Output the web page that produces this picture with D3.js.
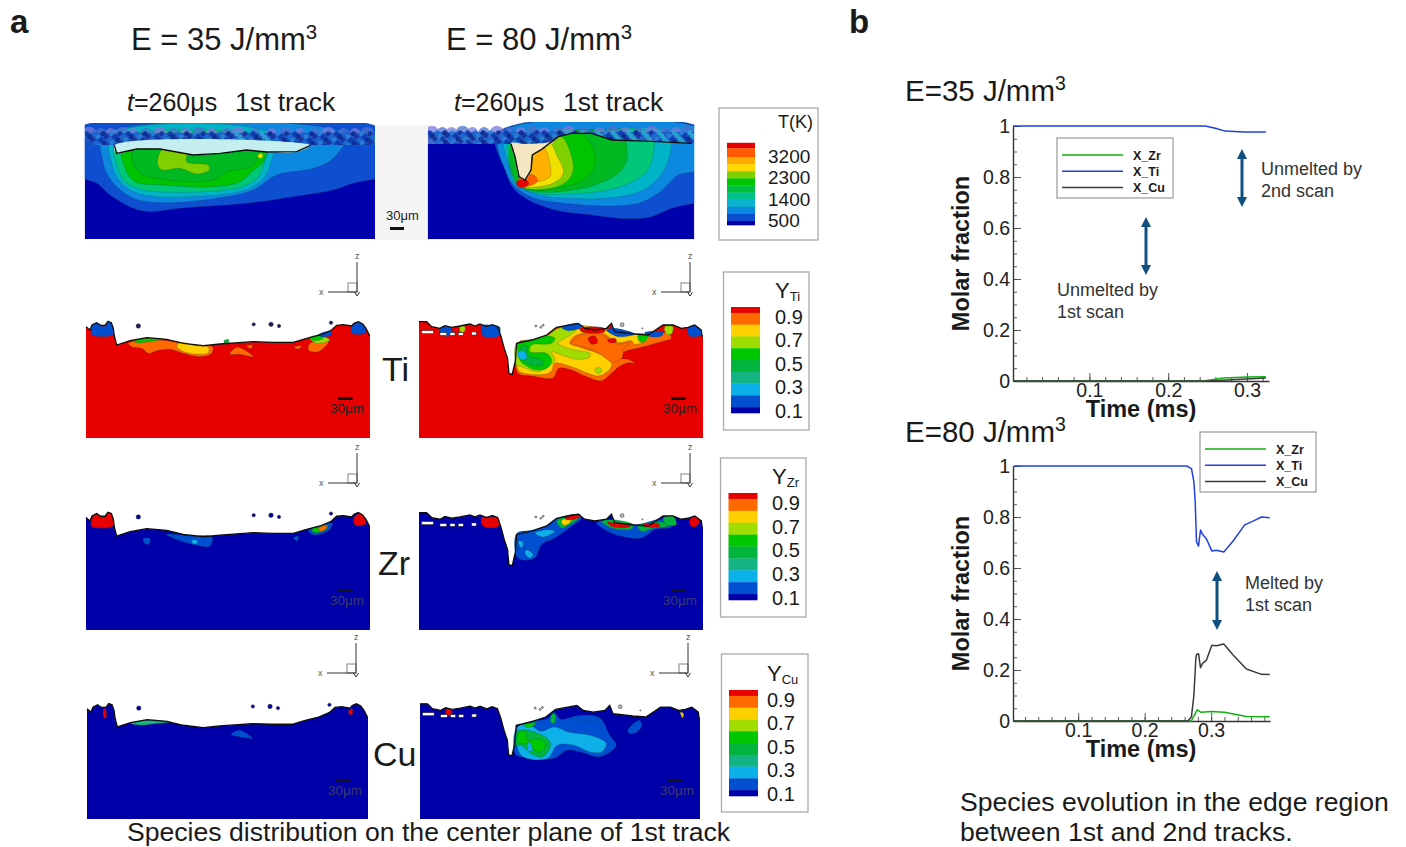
<!DOCTYPE html>
<html><head><meta charset="utf-8">
<script src="https://cdn.jsdelivr.net/npm/d3@7"></script>
<style>html,body{margin:0;background:#fff}svg{display:block}text{font-family:"Liberation Sans",Arial,sans-serif;fill:#1a1a1a}</style>
</head><body><svg id="c" width="1406" height="847"></svg>
<script>
// ---------- Line-chart data (time in ms, molar fraction) ----------
const t35Ti=[0.003,0.15,0.247,0.26,0.2725,0.296,0.324];
const v35Ti=[1,1,1,0.991,0.98,0.976,0.976];
const t35Zr=[0.003,0.245,0.27,0.30,0.324];
const v35Zr=[0,0,0.012,0.016,0.017];
const t35Cu=[0.003,0.25,0.28,0.324];
const v35Cu=[0,0,0.005,0.012];
const t80Ti=[0.003,0.263,0.2704,0.274,0.276,0.278,0.281,0.284,0.287,0.293,0.301,0.308,0.319,0.333,0.3505,0.363,0.3757,0.388];
const v80Ti=[1,1,0.99,0.939,0.86,0.703,0.686,0.749,0.732,0.714,0.667,0.67,0.663,0.706,0.769,0.784,0.80,0.797];
const t80Cu=[0.003,0.265,0.2704,0.274,0.277,0.278,0.281,0.284,0.287,0.293,0.301,0.308,0.319,0.333,0.353,0.3757,0.388];
const v80Cu=[0,0,0.017,0.10,0.246,0.261,0.264,0.209,0.226,0.239,0.297,0.295,0.302,0.259,0.204,0.183,0.182];
const t80Zr=[0.003,0.27,0.275,0.279,0.285,0.30,0.32,0.353,0.388];
const v80Zr=[0,0,0.024,0.044,0.034,0.037,0.034,0.018,0.017];
const seriesNames=["X_Zr","X_Ti","X_Cu"];
const yTicks=[0,0.2,0.4,0.6,0.8,1];
const xTicks=[0.1,0.2,0.3];
// ---------- Legend data ----------
const levelColors=["#e60000","#ff6a00","#ffd000","#a0dc00","#00c800","#00b43c","#14b482","#0ab0e8","#0050d0","#0000a8"];
const yLevelEdges=[1,0.95,0.85,0.75,0.65,0.55,0.45,0.35,0.25,0.15,0.1];
const yLabels=[0.9,0.7,0.5,0.3,0.1];
const tColors=["#e60000","#ff5a00","#ffa800","#ffd800","#80d000","#00c400","#00c040","#00c08c","#0ab4d0","#0a88e0","#0b4fd0","#0000a8"];
const tEdges=[3800,3570,3200,2900,2600,2300,2000,1700,1400,1100,800,500,330];
const tLabels=[3200,2300,1400,500];
// ---------- Temperature contour shapes (x, depth in sampled image units) ----------
const tLeftLayers=[
 [10,[[-40,40],[930,40],[930,172],[885,178],[820,190],[760,210],[640,230],[500,250],[300,265],[210,275],[160,265],[90,225],[50,190],[14,178],[-40,165]]],
 [9,[[68,45],[68,120],[80,160],[110,200],[160,235],[220,247],[300,247],[430,232],[520,210],[590,165],[700,145],[760,115],[795,45]]],
 [8,[[92,45],[95,130],[115,180],[160,215],[230,230],[330,230],[440,222],[510,205],[555,170],[572,130],[580,45]]],
 [7,[[108,60],[112,140],[135,185],[190,210],[300,217],[420,212],[490,200],[535,170],[555,120],[565,60]]],
 [5,[[130,70],[135,145],[165,185],[250,195],[400,200],[480,185],[520,150],[550,125],[555,70]]],
 [6,[[165,70],[170,150],[250,178],[400,180],[440,155],[520,135],[530,70]]],
 [4,[[248,88],[232,130],[245,150],[300,145],[350,162],[388,150],[385,135],[320,125],[320,100]]],
 [3,[[533,106],[545,100],[548,112],[536,114]]]];
const tLeftPool=[[103,76],[110,100],[170,87],[240,87],[340,105],[420,100],[500,90],[560,96],[650,95],[692,76]];
const tLeftTop=[[14,75],[885,75]];
const tRightLayers=[
 [10,[[215,40],[240,150],[265,205],[310,240],[390,270],[500,285],[600,296],[680,290],[740,265],[808,250],[860,235],[860,40]]],
 [9,[[225,40],[245,160],[270,200],[330,235],[420,250],[560,258],[640,250],[700,220],[760,165],[808,155],[860,140],[860,40]]],
 [8,[[240,45],[252,140],[270,190],[340,225],[430,235],[540,235],[630,220],[690,185],[725,135],[732,40],[500,30],[400,35]]],
 [7,[[255,50],[275,190],[340,220],[430,222],[520,215],[600,195],[665,155],[683,110],[680,40],[500,30],[400,35]]],
 [6,[[262,60],[275,190],[340,215],[430,212],[510,195],[580,160],[605,120],[590,40],[500,30],[400,35]]],
 [5,[[300,200],[420,200],[490,170],[512,120],[490,60],[450,30],[380,40]]],
 [4,[[290,198],[380,205],[430,180],[445,150],[440,110],[410,50],[370,60],[345,90]]],
 [3,[[290,195],[370,195],[410,170],[415,150],[395,105],[375,70],[345,92]]],
 [2,[[285,190],[340,185],[375,170],[378,155],[355,80],[325,100],[318,150]]],
 [1,[[275,185],[300,165],[325,165],[338,182],[310,198]]],
 [0,[[274,188],[290,178],[310,185],[310,195],[290,203],[278,198]]]];
const tRightPool=[[258,70],[270,110],[282,170],[300,180],[318,150],[322,105],[350,88],[385,66],[350,70],[300,72]];
const tRightMelt=[[258,72],[270,110],[282,170],[300,180],[318,150],[322,105],[350,88],[400,50],[440,40],[500,40],[560,60],[680,64],[800,70]];
const tRightTop=[[8,72],[258,72],[320,100],[350,88],[400,50],[440,40],[500,40],[560,60],[680,64],[808,70]];
const powderTopX=[28,62,92,128,160,198,240,282,318,358,395,440,475,525,575,618,660,705,745,790,825,862];
const powderMidX=[20,45,70,95,120,145,170,195,220,245,270,295,320,345,370,395,420,445,470,495,520,545,570,595,620,645,670,695,720,745,770,795,820,845,870];
// ---------- Species surface profiles ----------
const surfaceLeft=[[18,50],[30,60],[36,45],[50,38],[62,46],[75,46],[84,34],[94,38],[100,55],[103,78],[110,105],[150,92],[200,83],[260,88],[310,100],[370,107],[420,102],[520,95],[580,97],[640,97],[680,85],[720,75],[752,62],[770,46],[790,44],[815,48],[822,40],[835,35],[848,42],[858,55],[868,75],[870,75]];
const surfaceRight=[[12,35],[35,35],[50,50],[75,55],[90,47],[110,52],[135,48],[165,42],[180,48],[195,42],[215,50],[232,44],[248,50],[258,78],[268,115],[278,145],[282,190],[292,193],[302,150],[305,100],[350,90],[395,75],[425,52],[490,40],[510,55],[540,60],[575,55],[590,40],[600,65],[660,72],[700,75],[745,45],[775,45],[800,55],[820,52],[840,45],[860,60],[862,78],[865,78]];
const specksLeft=[[175,48,4],[573,43,4],[521,43,3],[597,48,3],[753,38,3]];
const specksRight=[[363,48,1.8],[378,52,1.8],[385,46,1.8],[622,44,3.5],[683,55,1]];
const pitsRight=[[20,62,35,9],[75,68,20,8],[105,68,15,8],[130,68,15,8],[170,66,14,9]];
// ---------- Species contour shapes ----------
const tiLeftLayers=[
 [8,[[34,62],[38,46],[52,40],[62,48],[76,48],[85,36],[94,40],[98,74],[34,74]]],
 [8,[[815,50],[825,42],[838,36],[850,46],[858,68],[815,70]]],
 [1,[[145,100],[190,90],[260,92],[310,100],[370,108],[398,110],[395,130],[360,140],[310,130],[270,118],[230,122],[205,130],[185,115],[155,110]]],
 [2,[[290,108],[305,97],[345,107],[385,112],[385,128],[345,132],[305,122]]],
 [4,[[160,95],[200,85],[250,87],[220,93],[180,98]]],
 [1,[[450,132],[470,112],[490,118],[520,140],[480,133]]],
 [1,[[500,108],[518,105],[512,116]]],[1,[[642,112],[665,107],[655,117]]],
 [1,[[685,120],[690,100],[745,95],[740,105],[715,125],[695,125]]],
 [3,[[690,85],[730,80],[750,90],[710,100]]],[4,[[690,82],[720,76],[730,85],[700,92]]],
 [5,[[432,92],[445,88],[445,100],[435,102]]],[8,[[715,74],[750,64],[755,74],[725,80]]]];
const tiRightLayers=[
 [1,[[303,175],[312,192],[350,198],[415,203],[432,175],[470,180],[510,198],[560,212],[590,190],[612,170],[640,158],[660,160],[640,148],[618,145],[625,128],[680,112],[740,95],[770,85],[760,70],[700,75],[640,72],[580,58],[520,50],[470,45],[430,55],[395,78],[350,90],[312,96]]],
 [2,[[305,165],[315,185],[395,192],[412,180],[418,160],[470,170],[520,190],[552,198],[585,178],[590,160],[560,135],[490,110],[465,100],[480,78],[560,68],[610,98],[650,92],[660,103],[700,88],[700,75],[620,70],[560,55],[480,45],[430,55],[395,78],[350,90],[312,96]]],
 [1,[[470,100],[492,78],[560,74],[606,102],[645,98],[628,115],[622,143],[600,156],[590,156],[545,125],[495,108]]],
 [3,[[305,100],[350,92],[395,80],[430,55],[480,55],[480,65],[450,85],[430,100],[470,118],[525,130],[525,140],[490,148],[440,135],[410,125],[420,150],[400,170],[370,185],[320,170],[305,165]]],
 [4,[[310,98],[350,92],[395,78],[420,85],[410,100],[350,105],[345,125],[395,130],[410,150],[400,172],[365,180],[330,165],[318,155]]],
 [5,[[318,110],[335,108],[340,135],[380,150],[385,165],[350,165],[325,150]]],
 [7,[[310,125],[330,125],[335,145],[320,150],[310,140]]],
 [0,[[520,85],[540,78],[548,98],[530,102]]],[0,[[578,90],[600,85],[605,95],[585,98]]],
 [3,[[540,178],[555,172],[560,185],[548,190]]],
 [8,[[440,52],[490,40],[500,52],[460,62]]],[0,[[495,55],[570,55],[570,65],[500,65]]],
 [8,[[575,60],[600,55],[660,72],[610,80]]],[8,[[690,68],[745,66],[740,78],[700,78]]],
 [4,[[670,75],[700,78],[690,95],[675,95]]],[3,[[750,50],[775,50],[770,72],[755,72]]],
 [8,[[75,57],[90,49],[110,54],[110,75],[75,75]]],[8,[[200,48],[232,46],[255,52],[250,78],[205,78]]],[8,[[820,55],[840,47],[860,62],[858,76],[825,78]]],
 [3,[[135,50],[150,50],[148,65],[136,65]]]];
const zrLeftLayers=[
 [0,[[34,62],[38,46],[52,40],[62,48],[76,48],[85,36],[94,40],[98,76],[34,76]]],[0,[[822,50],[842,38],[858,68],[825,72]]],
 [8,[[260,100],[330,105],[396,108],[390,135],[340,130],[290,115]]],
 [7,[[335,118],[352,118],[350,128],[338,127]]],[8,[[190,112],[210,112],[208,128],[195,128]]],
 [8,[[685,88],[720,75],[757,66],[750,85],[720,100],[695,100]]],
 [4,[[695,86],[725,75],[745,72],[735,88],[705,95]]],[1,[[715,82],[740,74],[738,84],[720,90]]],
 [8,[[640,110],[655,105],[652,120]]]];
const zrRightLayers=[
 [8,[[305,102],[350,92],[400,78],[430,55],[490,45],[500,55],[470,80],[420,115],[380,135],[360,175],[320,180],[305,170]]],
 [8,[[545,70],[590,60],[660,75],[745,60],[770,82],[720,90],[680,115],[620,110],[570,90]]],
 [7,[[310,125],[325,128],[320,145]]],[7,[[335,150],[355,165],[345,175],[330,160]]],[7,[[360,100],[400,90],[420,95],[385,112]]],
 [5,[[425,65],[445,52],[495,45],[490,58],[465,75],[440,85]]],[2,[[440,62],[470,58],[462,72],[445,76]]],[0,[[450,52],[497,45],[490,55],[455,60]]],
 [5,[[560,65],[590,60],[655,75],[650,88],[590,85]]],[0,[[578,68],[610,72],[650,75],[640,83],[590,80]]],
 [5,[[670,80],[745,68],[765,78],[720,85],[680,95]]],[0,[[685,75],[730,72],[735,80],[695,82]]],
 [0,[[200,55],[228,52],[250,55],[250,80],[205,80]]],[5,[[745,55],[775,50],[785,75],[755,75]]],[0,[[825,60],[842,50],[855,65],[842,82],[828,78]]]];
const cuLeftLayers=[
 [6,[[150,95],[200,85],[270,90],[230,95],[180,100]]],
 [8,[[455,128],[480,115],[520,140],[480,135]]],[0,[[68,50],[74,50],[76,78],[70,78]]],[0,[[812,55],[822,50],[822,68],[812,66]]]];
const cuRightLayers=[
 [8,[[305,100],[350,78],[400,70],[420,50],[430,60],[440,72],[500,60],[560,68],[590,120],[610,150],[585,175],[555,185],[500,170],[460,165],[420,190],[340,185],[305,180]]],
 [7,[[310,95],[345,88],[380,108],[420,95],[470,112],[530,120],[580,145],[565,170],[530,170],[480,150],[430,150],[400,190],[320,180]]],
 [5,[[305,110],[340,105],[400,130],[410,150],[385,185],[350,175],[320,150],[305,150]]],
 [4,[[312,110],[335,110],[340,135],[375,130],[395,145],[380,170],[360,165],[340,145],[315,145]]],
 [7,[[338,150],[345,140],[355,165],[342,168]]],
 [4,[[330,88],[365,82],[355,93],[335,95]]],[5,[[415,55],[425,60],[420,85],[410,80]]],
 [8,[[645,105],[680,75],[688,90],[670,112],[650,115]]],[8,[[480,65],[530,60],[560,68],[510,78]]],
 [0,[[92,42],[108,42],[108,60],[92,60]]],[2,[[805,50],[815,55],[812,68]]]];

// ---------- Drawing ----------
const svg=d3.select("#c");
const defs=svg.append("defs");
defs.append("filter").attr("id","soft").attr("x","-5%").attr("y","-5%").attr("width","110%").attr("height","110%")
  .append("feGaussianBlur").attr("stdDeviation",0.7);
const addText=(s,x,y,size,opts={})=>{const t=svg.append("text").attr("x",x).attr("y",y).attr("font-size",size).text(s);
  Object.entries(opts).forEach(([k,v])=>t.attr(k,v));return t;};
const closed=(sx,sy)=>d3.line().x(d=>sx(d[0])).y(d=>sy(d[1])).curve(d3.curveCatmullRomClosed.alpha(0.5));
const open=(sx,sy)=>d3.line().x(d=>sx(d[0])).y(d=>sy(d[1]));

function drawLayers(g,layers,sx,sy,contour){
  const p=closed(sx,sy);
  g.selectAll(null).data(layers).join("path").attr("d",d=>p(d[1])).attr("fill",d=>contour[d[0]])
   .attr("stroke","#143c30").attr("stroke-opacity",.45).attr("stroke-width",.5);
}
// temperature panels
const tPalette=["#e60000","#ff6000","#ffb000","#f0e000","#80d000","#00c400","#00b820","#00c878","#00b4c8","#0a88e0","#0b4fd0"];
let clipId=0;
function tempPanel(frame,dom,layers,poolPts,meltPts,topLine,warm){
  const sx=d3.scaleLinear().domain(dom.x).range(frame.x), sy=d3.scaleLinear().domain(dom.y).range(frame.y);
  const id="clip"+(clipId++), id2="clip"+(clipId++);
  defs.append("clipPath").attr("id",id).append("rect").attr("x",frame.x[0]).attr("y",frame.y[0]-22).attr("width",frame.x[1]-frame.x[0]).attr("height",frame.y[1]-frame.y[0]+22);
  const bandPoly=[[dom.x[0],0]].concat([[dom.x[1],0]],topLine.slice().reverse());
  defs.append("clipPath").attr("id",id2).append("path").attr("d",open(sx,sy)(bandPoly)+"Z");
  const g=svg.append("g").attr("clip-path",`url(#${id})`).append("g").attr("filter","url(#soft)");
  g.append("rect").attr("x",frame.x[0]).attr("y",frame.y[0]).attr("width",frame.x[1]-frame.x[0]).attr("height",frame.y[1]-frame.y[0]).attr("fill","#0000ad");
  drawLayers(g,layers,sx,sy,tPalette);
  const h=sy(dom.y[0])-sy(dom.y[0]-1);
  const cyc=["#0c3cb0","#1a6ad0","#0a2a90","#2a80d8","#16329c"];
  const pos=(d,off)=>sx(dom.x[0]+(d-14+off)*(dom.x[1]-dom.x[0])/871);
  const band=g.append("g").attr("clip-path",`url(#${id2})`);
  band.selectAll(null).data(powderTopX).join("circle").attr("cx",d=>pos(d,0)).attr("cy",d=>sy(dom.y[0]-34))
    .attr("r",(d,i)=>h*(i%3==0?21:17)).attr("fill",(d,i)=>i%2==0?"#7a78dc":"#4c70d0").attr("opacity",.75);
  band.append("rect").attr("x",frame.x[0]).attr("y",sy(dom.y[0]-36)).attr("width",frame.x[1]-frame.x[0]).attr("height",h*38).attr("fill","#1c50c0").attr("opacity",.85);
  [-34,-25,-15,-6,2].forEach((dy,r)=>{
    band.selectAll(null).data(powderMidX).join("circle").attr("cx",d=>pos(d,r*9)).attr("cy",sy(dom.y[0]+dy))
     .attr("r",h*7.5).attr("fill",(d,i)=>{const b=cyc[(i+r*2)%cyc.length];return (warm&&d>420&&i%2==0)?"#28a8d0":((!warm&&d>440&&d<620&&i%3==0)?"#30a0d8":b);}).attr("opacity",.9);
  });
  g.append("path").attr("d",closed(sx,sy)(poolPts)).attr("fill",warm?"#f4e6c0":"#c4eef0");
  g.append("path").attr("d",open(sx,sy)(meltPts)).attr("fill","none").attr("stroke","#111").attr("stroke-width",1.4);
}
svg.append("rect").attr("x",375).attr("y",125).attr("width",53).attr("height",115).attr("fill","#f5f5f5");
tempPanel({x:[84.7,375],y:[145,239]},{x:[14,885],y:[75,357]},tLeftLayers,tLeftPool,tLeftPool,tLeftTop,false);
tempPanel({x:[427.7,694.3],y:[144,239.3]},{x:[8,808],y:[72,358]},tRightLayers,tRightPool,tRightMelt,tRightTop,true);
addText("30μm",386,220,13);
svg.append("rect").attr("x",390).attr("y",227).attr("width",14).attr("height",3).attr("fill","#111");

// species panels
function speciesPanel(cfg){
  const sx=d3.scaleLinear().domain(cfg.dx).range(cfg.x), sy=d3.scaleLinear().domain([78,384]).range(cfg.y);
  const by=cfg.by?d3.scaleLinear().domain(cfg.by).range(cfg.y):sy;
  const g=svg.append("g").attr("filter","url(#soft)");
  const poly=cfg.surface.concat([[cfg.dx[1],384],[cfg.dx[0],384]]);
  g.append("path").attr("d",open(sx,sy)(poly)+"Z").attr("fill",cfg.base);
  drawLayers(g,cfg.layers,sx,by,levelColors);
  g.append("path").attr("d",open(sx,sy)(cfg.surface)).attr("fill","none").attr("stroke","#111").attr("stroke-width",1.3);
  g.selectAll(null).data(cfg.pits||[]).join("rect").attr("x",d=>sx(d[0])).attr("y",d=>sy(d[1])).attr("width",d=>sx(d[2])-sx(0)).attr("height",d=>sy(d[3])-sy(0)).attr("fill","#fff").attr("stroke","#222").attr("stroke-width",.5);
  g.selectAll(null).data(cfg.specks).join("circle").attr("cx",d=>sx(d[0])).attr("cy",d=>sy(d[1])).attr("r",d=>d[2]*.55).attr("fill",cfg.speck).attr("stroke","#222").attr("stroke-width",.5);
  const bx=cfg.bar;
  svg.append("rect").attr("x",bx).attr("y",cfg.y[0]+cfg.barY).attr("width",14.5).attr("height",3).attr("fill",cfg.barCol);
  addText("30μm",bx-8,cfg.y[0]+cfg.barY+16,13.5,{style:`fill:${cfg.barText}`});
}
const red="#e60000", navy="#0000a8";
speciesPanel({x:[86,370],y:[336,438],dx:[18,870],surface:surfaceLeft,layers:tiLeftLayers,base:red,specks:specksLeft,speck:"#1a1a60",bar:338,barY:61,barCol:"#111",barText:"#222"});
speciesPanel({x:[419,703],y:[336,438],dx:[12,865],surface:surfaceRight,layers:tiRightLayers,base:red,specks:specksRight,speck:"#bbb",pits:pitsRight,bar:671,barY:61,barCol:"#111",barText:"#222"});
speciesPanel({x:[86,370],y:[527,630],dx:[18,870],surface:surfaceLeft,layers:zrLeftLayers,base:navy,specks:specksLeft,speck:navy,bar:338,barY:62,barCol:"#111",barText:"#3a3a70"});
speciesPanel({x:[419,703],y:[527,630],dx:[12,865],surface:surfaceRight,layers:zrRightLayers,base:navy,specks:specksRight,speck:"#bbb",pits:pitsRight,by:[82,390],bar:671,barY:62,barCol:"#111",barText:"#3a3a70"});
speciesPanel({x:[87,368],y:[718,819],dx:[18,870],surface:surfaceLeft,layers:cuLeftLayers,base:navy,specks:specksLeft,speck:navy,bar:336,barY:61,barCol:"#111",barText:"#3a3a70"});
speciesPanel({x:[420,700],y:[718,819],dx:[12,865],surface:surfaceRight,layers:cuRightLayers,base:navy,specks:specksRight,speck:"#bbb",pits:pitsRight,by:[68,372],bar:668,barY:61,barCol:"#111",barText:"#3a3a70"});

// coordinate triads
function triad(x,yBottom,yTop){
  const g=svg.append("g").attr("stroke","#333").attr("stroke-width",1).attr("fill","none");
  g.append("line").attr("x1",x).attr("x2",x).attr("y1",yTop).attr("y2",yBottom);
  g.append("line").attr("x1",x-29).attr("x2",x).attr("y1",yBottom).attr("y2",yBottom);
  g.append("rect").attr("x",x-9).attr("y",yBottom-9).attr("width",9).attr("height",9).attr("stroke-opacity",.6);
  g.append("path").attr("d",`M${x-2.5},${yBottom}L${x},${yBottom+4}L${x+2.5},${yBottom}`);
  addText("x",x-38,yBottom+3,9,{style:"fill:#555"});
  addText("z",x-2,yTop-3,9,{style:"fill:#555"});
}
[[357,292,262],[690,292,262],[357,483,453],[690,483,453],[356,673,643],[688,673,643]].forEach(d=>triad(...d));

// contour legends
function yLegend(box,bar,sym,sub,labelX){
  svg.append("rect").attr("x",box[0]).attr("y",box[1]).attr("width",box[2]-box[0]).attr("height",box[3]-box[1]).attr("fill","#fff").attr("stroke","#aaa").attr("stroke-width",1.3);
  const y=d3.scaleLinear().domain([1,0.1]).range([bar[1],bar[2]]);
  svg.selectAll(null).data(levelColors).join("rect").attr("x",bar[0]).attr("width",29).attr("y",(d,i)=>y(yLevelEdges[i])).attr("height",(d,i)=>y(yLevelEdges[i+1])-y(yLevelEdges[i])+.3).attr("fill",d=>d);
  yLabels.forEach(v=>addText(d3.format(".1f")(v),labelX,y(v)+5,20));
  const t=addText(sym,labelX,bar[1]-9,22);
  t.append("tspan").attr("font-size",13).attr("dy",3).text(sub);
}
yLegend([723.5,272,809,430],[731,307,413],"Y","Ti",775);
yLegend([720.5,458,806,617],[728.5,493,600],"Y","Zr",772);
yLegend([721.5,654,808,812],[729,690,796],"Y","Cu",767);
// temperature legend
svg.append("rect").attr("x",719).attr("y",108).attr("width",99).attr("height",132).attr("fill","#fff").attr("stroke","#aaa").attr("stroke-width",1.3);
const tLegY=d3.scaleLinear().domain([500,3200]).range([221,157]);
svg.selectAll(null).data(tColors).join("rect").attr("x",727).attr("width",28).attr("y",(d,i)=>tLegY(tEdges[i])).attr("height",(d,i)=>tLegY(tEdges[i+1])-tLegY(tEdges[i])+.3).attr("fill",d=>d);
tLabels.forEach(v=>addText(v,768,tLegY(v)+6,19));
addText("T(K)",778,128,18);

// titles and labels
addText("a",10,33,33,{"font-weight":"bold"});
addText("b",849,33,33,{"font-weight":"bold"});
function energy(s,x,y,size){const t=addText(s,x,y,size);t.append("tspan").attr("dy",-size*.36).attr("font-size",size*.66).text("3");}
energy("E = 35 J/mm",131,50,31);
energy("E = 80 J/mm",446,50,31);
function tTitle(x,x2){
  const t=addText("",x,111,25);t.append("tspan").attr("font-style","italic").text("t");t.append("tspan").text("=260μs");
  addText("1st track",x2,111,26.5);
}
tTitle(127,235);tTitle(454,563);
addText("Ti",382,381,34);addText("Zr",378,575,34);addText("Cu",373,766,34);
addText("Species distribution on the center plane of 1st track",127,841,26.6);
addText("Species evolution in the edge region",960,811,26.6);
addText("between 1st and 2nd tracks.",960,841,26.6);

// line charts
const lineColors={"X_Zr":"#10b010","X_Ti":"#2040e0","X_Cu":"#3a3a3a"};
function chart(o){
  const x=d3.scaleLinear().domain(o.xDomain).range([1013,o.xEnd]);
  const y=d3.scaleLinear().domain([0,1]).range([o.y0,o.y1]);
  const g=svg.append("g");
  const ax=d3.axisBottom(x).tickValues(xTicks).tickSizeInner(-8).tickSizeOuter(0).tickPadding(2).tickFormat(d3.format(".1f"));
  g.append("g").attr("transform",`translate(0,${o.y0})`).call(ax);
  const minorX=d3.range(2,Math.floor(o.xDomain[1]*100)+1,2).map(v=>v/100);
  g.append("g").attr("transform",`translate(0,${o.y0})`).call(d3.axisBottom(x).tickValues(minorX).tickSizeInner(-4).tickSizeOuter(0).tickFormat("")).select(".domain").remove();
  const ay=d3.axisLeft(y).tickValues(yTicks).tickSizeInner(-8).tickSizeOuter(0).tickPadding(3).tickFormat(d3.format("~g"));
  g.append("g").attr("transform","translate(1013,0)").call(ay);
  const minorY=d3.range(0,21).map(v=>v/20);
  g.append("g").attr("transform","translate(1013,0)").call(d3.axisLeft(y).tickValues(minorY).tickSizeInner(-4).tickSizeOuter(0).tickFormat("")).select(".domain").remove();
  g.selectAll(".domain").attr("stroke","#333").attr("stroke-width",1.4);
  g.selectAll(".tick line").attr("stroke","#444").attr("stroke-width",.9);
  g.selectAll(".tick text").attr("font-size",19.5).attr("font-family","Liberation Sans").style("fill","#222");
  const ln=d3.line().x(d=>x(d[0])).y(d=>y(d[1]));
  o.series.forEach(s=>{
    g.append("path").attr("d",ln(d3.zip(s.t,s.v))).attr("fill","none").attr("stroke",lineColors[s.n]).attr("stroke-width",o.w).attr("stroke-linejoin","round");
  });
  const yMid=(o.y0+o.y1)/2;
  addText("Molar fraction",0,0,23.5,{"font-weight":"bold","text-anchor":"middle",transform:`translate(969,${yMid}) rotate(-90)`});
  addText("Time (ms)",1141,o.y0+36,23.5,{"font-weight":"bold","text-anchor":"middle"});
  // legend box
  const b=o.legend;
  svg.append("rect").attr("x",b[0]).attr("y",b[1]).attr("width",116).attr("height",60).attr("fill","#fff").attr("stroke","#999").attr("stroke-width",1.2);
  seriesNames.forEach((n,i)=>{
    const ly=b[1]+17+i*16.3;
    svg.append("line").attr("x1",b[0]+5).attr("x2",b[0]+66).attr("y1",ly).attr("y2",ly).attr("stroke",lineColors[n]).attr("stroke-width",1.5);
    addText(n,b[0]+76,ly+4.5,12.5,{"font-weight":"bold"});
  });
}
chart({xDomain:[0.003,0.328],xEnd:1269,y0:381,y1:126,w:1.5,legend:[1057,138],series:[
 {n:"X_Zr",t:t35Zr,v:v35Zr},{n:"X_Cu",t:t35Cu,v:v35Cu},{n:"X_Ti",t:t35Ti,v:v35Ti}]});
chart({xDomain:[0.002,0.3885],xEnd:1270,y0:721,y1:466,w:1.5,legend:[1200,432],series:[
 {n:"X_Zr",t:t80Zr,v:v80Zr},{n:"X_Cu",t:t80Cu,v:v80Cu},{n:"X_Ti",t:t80Ti,v:v80Ti}]});
energy("E=35 J/mm",905,101,29.5);
energy("E=80 J/mm",905,442,29.5);

// double arrows
function dbl(x,y1,y2){
  const c="#0f5080";
  svg.append("line").attr("x1",x).attr("x2",x).attr("y1",y1+4).attr("y2",y2-4).attr("stroke",c).attr("stroke-width",3);
  svg.append("path").attr("d",`M${x-5},${y1+10}L${x},${y1}L${x+5},${y1+10}Z`).attr("fill",c);
  svg.append("path").attr("d",`M${x-5},${y2-10}L${x},${y2}L${x+5},${y2-10}Z`).attr("fill",c);
}
dbl(1146,217,275);dbl(1242,149,207);dbl(1217,571,630);
const note={style:"fill:#333"};
addText("Unmelted by",1261,175,18,note);addText("2nd scan",1261,197,18,note);
addText("Unmelted by",1057,296,18,note);addText("1st scan",1057,318,18,note);
addText("Melted by",1245,589,18,note);addText("1st scan",1245,611,18,note);
</script></body></html>
